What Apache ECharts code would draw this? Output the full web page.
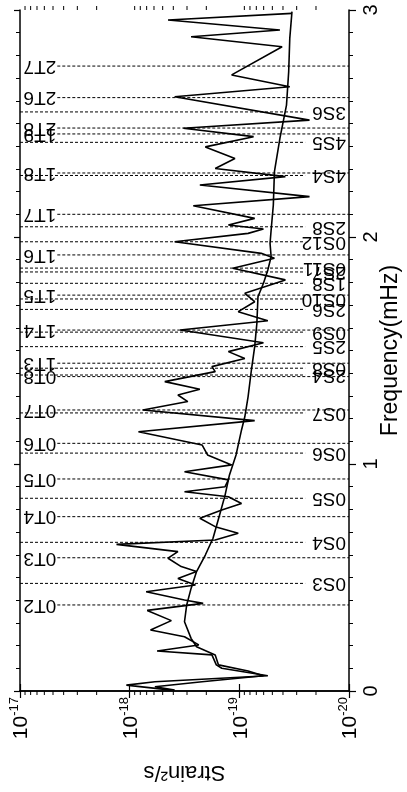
<!DOCTYPE html>
<html>
<head>
<meta charset="utf-8">
<script src="https://cdn.jsdelivr.net/npm/echarts@6/dist/echarts.min.js"></script>
<title>Strain spectrum</title>
<style>
    html, body { margin: 0; padding: 0; background: #fff; }
    #main { width: 407px; height: 792px; }
</style>
</head>
<body>
<div id="main"></div>
<script type="text/javascript">
// frequency in mHz, strain as log10 of Strain^2/s
var signalFreq = [0.004, 0.026, 0.041, 0.067, 0.100, 0.115, 0.159, 0.176, 0.203, 0.239, 0.269, 0.310, 0.355, 0.386, 0.401,
    0.437, 0.467, 0.496, 0.526, 0.548, 0.585, 0.614, 0.646, 0.665, 0.695, 0.724, 0.761, 0.797, 0.826, 0.856,
    0.878, 0.900, 0.930, 0.966, 0.996, 1.040, 1.084, 1.142, 1.191, 1.238, 1.275, 1.304, 1.329, 1.363, 1.407,
    1.429, 1.465, 1.495, 1.534, 1.590, 1.631, 1.671, 1.715, 1.752, 1.811, 1.862, 1.906, 1.928, 1.979, 2.016,
    2.035, 2.053, 2.082, 2.138, 2.178, 2.229, 2.266, 2.302, 2.346, 2.397, 2.442, 2.479, 2.515, 2.618, 2.662,
    2.714, 2.838, 2.882, 2.912, 2.956, 2.985];
var signalLog = [-18.38, -17.97, -18.23, -19.26, -18.84, -18.79, -18.75, -18.25, -18.63, -18.50, -18.19, -18.38, -18.16, -18.67, -18.50,
    -18.15, -18.60, -18.44, -18.61, -18.47, -18.35, -18.44, -17.88, -18.78, -18.99, -18.78, -18.64, -18.84, -19.02, -18.90,
    -18.50, -18.87, -18.90, -18.50, -18.93, -18.71, -18.66, -18.08, -19.14, -18.12, -18.53, -18.44, -18.64, -18.32, -18.78,
    -18.75, -19.05, -18.90, -19.22, -18.46, -19.26, -18.99, -19.14, -19.05, -19.42, -18.94, -19.32, -19.20, -18.41, -19.08,
    -19.22, -18.90, -19.14, -18.58, -19.64, -18.64, -19.42, -18.78, -18.96, -18.69, -19.13, -18.49, -19.64, -18.41, -19.46,
    -18.93, -19.39, -18.56, -19.37, -18.35, -19.48];

var noiseFreq = [0.004, 0.019, 0.041, 0.067, 0.088, 0.115, 0.159, 0.195, 0.232, 0.305, 0.379, 0.452, 0.526, 0.599, 0.673,
    0.775, 0.863, 0.952, 1.040, 1.150, 1.208, 1.297, 1.414, 1.517, 1.620, 1.737, 1.796, 1.855, 1.913, 1.972,
    2.031, 2.141, 2.288, 2.435, 2.581, 2.728, 2.875, 2.993];
var noiseLog = [-18.41, -18.23, -18.66, -19.22, -19.08, -18.81, -18.78, -18.61, -18.56, -18.50, -18.52, -18.56, -18.61, -18.69, -18.76,
    -18.82, -18.87, -18.91, -18.97, -19.02, -19.05, -19.08, -19.11, -19.14, -19.16, -19.17, -19.22, -19.26, -19.29, -19.28,
    -19.29, -19.31, -19.32, -19.37, -19.43, -19.45, -19.46, -19.48];

// normal modes: toroidal (T) labelled on the upper side, spheroidal (S) on the lower side
var modeNames = ['0T2', '0S3', '0T3', '0S4', '0T4', '0S5', '0T5', '0S6', '0T6', '0S7', '0T7', '0T8', '2S4', '0S8', '1T3',
    '2S5', '0S9', '1T4', '2S6', '0S10', '1T5', '1S8', '2S7', '0S11', '1T6', '0S12', '2S8', '1T7', '4S4', '1T8',
    '4S5', '1T9', '2T8', '3S6', '2T6', '2T7'];
var modeFreq = [0.379, 0.474, 0.587, 0.655, 0.768, 0.849, 0.934, 1.048, 1.091, 1.225, 1.238, 1.385, 1.392, 1.422, 1.444,
    1.517, 1.581, 1.590, 1.681, 1.727, 1.744, 1.796, 1.846, 1.863, 1.921, 1.979, 2.045, 2.100, 2.271, 2.282,
    2.417, 2.454, 2.480, 2.551, 2.614, 2.753];

var strainMin = 1e-20, strainMax = 1e-17;
var freqMin = 0, freqMax = 3;

var FONT = '"Liberation Sans", Arial, Helvetica, sans-serif';

function pairs(fr, lg) {
    return fr.map(function (f, i) { return [Math.pow(10, lg[i]), f]; });
}

// minor ticks of the log axis (2..9 in every decade)
var minorStrain = [];
for (var e = -20; e < -17; e++) {
    for (var k = 2; k <= 9; k++) minorStrain.push(k * Math.pow(10, e));
}

var myChart = echarts.init(document.getElementById('main'));

var lineStyleBlack = { color: '#000', width: 1.5 };

var option = {
    animation: false,
    backgroundColor: '#fff',
    grid: { left: 20, right: 58, top: 10, bottom: 101, containLabel: false, outerBoundsMode: 'none' },
    xAxis: [{
        type: 'log',
        logBase: 10,
        min: strainMin,
        max: strainMax,
        inverse: true,
        position: 'bottom',
        name: 'Strain²/s',
        nameLocation: 'middle',
        nameRotate: 180,
        nameGap: 70,
        nameMoveOverlap: false,
        nameTextStyle: { color: '#000', fontSize: 22, fontFamily: FONT },
        axisLine: { show: true, lineStyle: lineStyleBlack },
        axisTick: { show: true, inside: false, length: 7, lineStyle: { color: '#000', width: 1.2 } },
        splitLine: { show: false },
        axisLabel: {
            rotate: 90,
            margin: 6,
            color: '#000',
            formatter: function (v) {
                var ex = Math.round(Math.log(v) / Math.LN10);
                return '{b|10}{s|' + ex + '}';
            },
            rich: {
                b: { fontSize: 21, fontFamily: FONT, color: '#000', lineHeight: 24, verticalAlign: 'bottom' },
                s: { fontSize: 13, fontFamily: FONT, color: '#000', verticalAlign: 'top' }
            }
        }
    }, {
        type: 'log',
        logBase: 10,
        min: strainMin,
        max: strainMax,
        inverse: true,
        position: 'top',
        axisLine: { show: true, lineStyle: lineStyleBlack },
        axisTick: { show: true, inside: false, length: 7, lineStyle: { color: '#000', width: 1.2 } },
        axisLabel: { show: false },
        splitLine: { show: false }
    }],
    yAxis: [{
        type: 'value',
        min: freqMin,
        max: freqMax,
        interval: 1,
        position: 'right',
        name: 'Frequency(mHz)',
        nameLocation: 'middle',
        nameRotate: 90,
        nameGap: 30,
        nameMoveOverlap: false,
        nameTextStyle: { color: '#000', fontSize: 23, fontFamily: FONT },
        axisLine: { show: true, lineStyle: lineStyleBlack },
        axisTick: { show: true, inside: false, length: 7, lineStyle: { color: '#000', width: 1.2 } },
        minorTick: { show: true, splitNumber: 10, length: 4, lineStyle: { color: '#000', width: 1 } },
        splitLine: { show: false },
        axisLabel: { rotate: 90, margin: 12, color: '#000', fontSize: 20, fontFamily: FONT }
    }, {
        type: 'value',
        min: freqMin,
        max: freqMax,
        interval: 1,
        position: 'left',
        axisLine: { show: true, lineStyle: lineStyleBlack },
        axisTick: { show: true, inside: false, length: 6, lineStyle: { color: '#000', width: 1.2 } },
        minorTick: { show: true, splitNumber: 10, length: 4, lineStyle: { color: '#000', width: 1 } },
        splitLine: { show: false },
        axisLabel: { show: false }
    }],
    series: [{
        name: 'modes',
        type: 'custom',
        xAxisIndex: 0,
        yAxisIndex: 0,
        silent: true,
        clip: false,
        data: modeFreq.map(function (f) { return [1e-18, f]; }),
        renderItem: function (params, api) {
            var name = modeNames[params.dataIndex];
            var f = api.value(1);
            var isT = name.indexOf('T') >= 0;
            var p0, p1, anchor;
            if (isT) {
                p0 = api.coord([Math.pow(10, -17.34), f]);
                p1 = api.coord([strainMin, f]);
                anchor = p0[0] - 1;
            } else {
                p0 = api.coord([strainMax, f]);
                p1 = api.coord([Math.pow(10, -19.60), f]);
                anchor = api.coord([strainMin, f])[0] - 3;
            }
            return {
                type: 'group',
                children: [{
                    type: 'line',
                    shape: { x1: p0[0], y1: p0[1], x2: p1[0], y2: p1[1] },
                    style: { stroke: '#000', lineWidth: 1, lineDash: [3, 2] }
                }, {
                    type: 'text',
                    x: anchor,
                    y: p0[1],
                    rotation: Math.PI,
                    style: {
                        text: name,
                        x: 0, y: 0,
                        align: 'left',
                        verticalAlign: 'middle',
                        font: '19px ' + FONT,
                        fill: '#000'
                    }
                }]
            };
        }
    }, {
        name: 'logMinorTicks',
        type: 'custom',
        xAxisIndex: 0,
        yAxisIndex: 0,
        silent: true,
        clip: false,
        data: minorStrain.map(function (v) { return [v, 0]; }),
        renderItem: function (params, api) {
            var b = api.coord([api.value(0), freqMin]);
            var t = api.coord([api.value(0), freqMax]);
            return {
                type: 'group',
                children: [{
                    type: 'line',
                    shape: { x1: b[0], y1: b[1], x2: b[0], y2: b[1] + 4 },
                    style: { stroke: '#000', lineWidth: 1 }
                }, {
                    type: 'line',
                    shape: { x1: t[0], y1: t[1], x2: t[0], y2: t[1] - 4 },
                    style: { stroke: '#000', lineWidth: 1 }
                }]
            };
        }
    }, {
        name: 'noise',
        type: 'line',
        xAxisIndex: 0,
        yAxisIndex: 0,
        showSymbol: false,
        silent: true,
        data: pairs(noiseFreq, noiseLog),
        lineStyle: { color: '#000', width: 1.6 }
    }, {
        name: 'signal',
        type: 'line',
        xAxisIndex: 0,
        yAxisIndex: 0,
        showSymbol: false,
        silent: true,
        data: pairs(signalFreq, signalLog),
        lineStyle: { color: '#000', width: 1.6 }
    }]
};

myChart.setOption(option);
</script>
</body>
</html>
